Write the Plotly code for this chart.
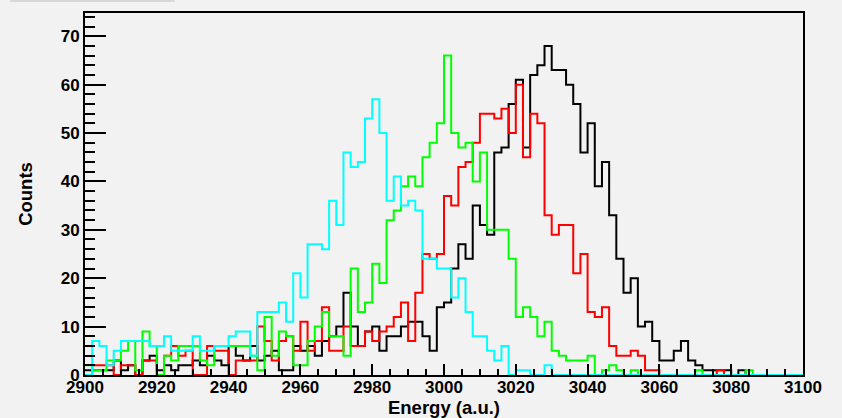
import plotly.graph_objects as go

# Histogram binning: 100 bins of width 2 from 2900 to 3100
BIN_START = 2900
BIN_WIDTH = 2
N_BINS = 100

black = [1,1,1,1,3,1,2,0,3,4, 1,2,1,2,2,3,2,4,3,2,
         6,4,3,6,3,4,5,1,1,6, 5,6,4,7,8,10,17,10,6,9,
         10,5,8,8,10,11,11,8,5,14, 15,22,27,24,35,31,29,46,47,56,
         61,47,62,64,68,63,63,60,56,46, 52,39,44,33,24,17,20,10,11,7,
         3,3,5,7,3,2,1,1,1,1, 0,1,0,0,0,0,0,0,0,0]

red = [0,2,2,2,0,2,2,0,3,3, 0,4,6,4,5,0,0,6,5,5,
       0,3,3,3,10,7,3,7,8,5, 11,5,7,14,5,5,10,6,6,9,
       7,9,10,12,15,7,17,25,24,25, 37,35,43,44,48,54,54,53,55,50,
       60,45,54,52,33,29,31,31,21,25, 13,12,14,6,4,4,5,4,1,1,
       0,0,0,0,0,0,0,0,1,0, 0,0,0,0,0,0,0,0,0,0]

green = [2,1,1,3,3,5,7,1,9,6, 0,4,3,6,6,6,3,2,6,6,
         6,6,6,4,1,12,4,9,8,2, 2,7,10,13,8,8,4,22,13,15,
         23,19,32,34,39,41,39,45,48,52, 66,50,47,48,40,46,30,30,30,24,
         12,14,12,8,11,5,4,3,3,3, 4,0,1,2,1,0,1,0,0,0,
         0,0,0,0,0,1,0,0,0,0, 0,0,1,0,0,0,0,0,0,0]

cyan = [0,7,6,2,5,7,7,7,7,6, 6,8,5,5,5,8,5,5,6,6,
        8,9,9,4,13,13,13,15,11,21, 16,27,27,26,36,31,46,43,44,53,
        57,50,36,41,35,36,34,24,24,22, 22,16,20,13,8,8,5,3,6,0,
        1,1,0,0,2,0,0,0,0,0, 0,0,0,0,0,0,0,0,0,0,
        0,0,0,0,0,0,0,0,0,0, 0,0,0,0,0,0,0,0,0,0]

x_tick_vals = list(range(2900, 3101, 20))
y_tick_vals = list(range(0, 71, 10))

edges = [BIN_START + BIN_WIDTH * i for i in range(N_BINS + 1)]

series = [("black", black, "#000000"),
          ("red", red, "#ff0000"),
          ("green", green, "#00ff00"),
          ("cyan", cyan, "#00ffff")]

fig = go.Figure()
for name, vals, col in series:
    fig.add_trace(go.Scatter(
        x=edges, y=list(vals) + [vals[-1]],
        mode="lines", line=dict(color=col, width=2, shape="hv"),
        name=name, showlegend=False, hoverinfo="skip"))

ymax = max(black) * 1.1
bg = "#f2f2f2"
tick_font = dict(family="Liberation Sans, Arial, sans-serif", size=17, color="black", weight="bold")
title_font = dict(family="Liberation Sans, Arial, sans-serif", size=18.5, color="black", weight="bold")

fig.update_layout(
    width=842, height=418,
    margin=dict(l=85, r=39, t=13, b=43),
    paper_bgcolor=bg, plot_bgcolor=bg,
    showlegend=False,
    xaxis=dict(
        range=[2900, 3100], tickmode="array", tickvals=x_tick_vals,
        ticktext=[str(v) for v in x_tick_vals],
        ticks="inside", ticklen=11, tickwidth=1.5, tickcolor="black",
        minor=dict(dtick=5, tick0=2900, ticks="inside", ticklen=6, tickwidth=1.5, tickcolor="black"),
        showline=True, linecolor="black", linewidth=2, mirror=True,
        showgrid=False, zeroline=False, automargin=False,
        ticklabelstandoff=-4,
        tickfont=tick_font,
        title=dict(text="Energy (a.u.)", font=title_font, standoff=3),
    ),
    yaxis=dict(
        range=[0, ymax], tickmode="array", tickvals=y_tick_vals,
        ticktext=[str(v) for v in y_tick_vals],
        ticks="inside", ticklen=21, tickwidth=1.5, tickcolor="black",
        minor=dict(dtick=2, tick0=0, ticks="inside", ticklen=10, tickwidth=1.5, tickcolor="black"),
        showline=True, linecolor="black", linewidth=2, mirror=True,
        showgrid=False, zeroline=False, automargin=False,
        tickfont=tick_font,
        title=dict(text="Counts", font=title_font, standoff=23),
    ),
    shapes=[dict(type="line", xref="paper", yref="paper",
                 x0=-0.104, x1=0.125, y0=1.033, y1=1.033,
                 line=dict(color="#d8d8d8", width=2))],
)

fig.write_html(
    "out.html",
    config={"displayModeBar": False},
    post_script="document.body.style.margin='0';document.body.style.background='#f2f2f2';",
)
